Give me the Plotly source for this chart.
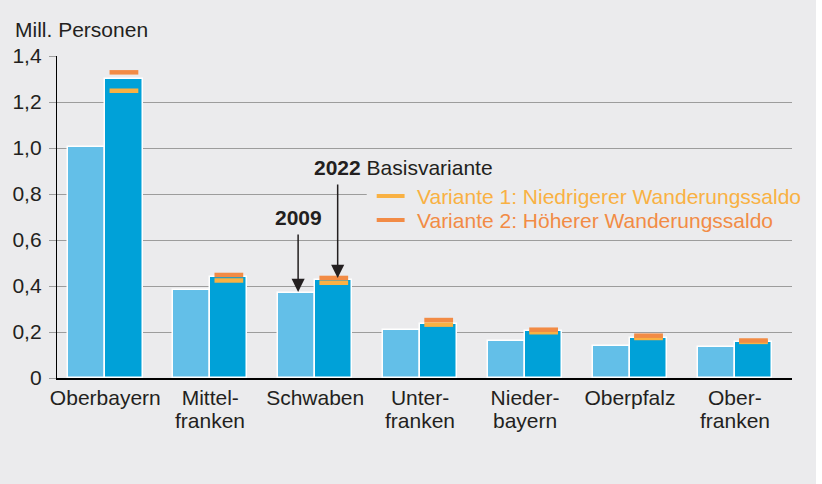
import numpy as np
import plotly.graph_objects as go

# ---- data ----
categories = ["Oberbayern", "Mittel-<br>franken", "Schwaben", "Unter-<br>franken",
              "Nieder-<br>bayern", "Oberpfalz", "Ober-<br>franken"]
v2009 = [1.005, 0.384, 0.370, 0.209, 0.159, 0.138, 0.133]
v2022 = [1.300, 0.438, 0.424, 0.235, 0.203, 0.175, 0.157]
variant1 = [1.249, 0.424, 0.414, 0.232, 0.199, 0.174, 0.157]
variant2 = [1.329, 0.448, 0.435, 0.252, 0.210, 0.184, 0.163]
y_tickvals = [0, 0.2, 0.4, 0.6, 0.8, 1.0, 1.2, 1.4]
y_ticktext = ["0", "0,2", "0,4", "0,6", "0,8", "1,0", "1,2", "1,4"]
legend_names = ["Variante 1: Niedrigerer Wanderungssaldo", "Variante 2: Höherer Wanderungssaldo"]

# ---- style ----
BG = "#ebebed"
LIGHT = "#63bfe8"
DARK = "#00a1d8"
V1 = "#f9b143"
V2 = "#f28b45"
TXT = "#231f20"
FONT = "Liberation Sans, Arial, Helvetica, sans-serif"
FS = 21

W, H = 816, 484
ML, MR, MT, MB = 54, 24, 56, 106
PW, PH = W - ML - MR, H - MT - MB


def px_x(p):  # pixel -> paper x
    return (p - ML) / PW


def px_y(p):  # pixel -> paper y
    return (H - MB - p) / PH


idx = np.arange(len(categories))
bw = 0.355
off = bw / 2
half = 0.137


def seg(vals):
    xs, ys = [], []
    for i, v in zip(idx, vals):
        xs += [i + off - half, i + off + half, None]
        ys += [v, v, None]
    return xs, ys


fig = go.Figure()
fig.add_bar(x=idx - off, y=v2009, width=bw, marker=dict(color=LIGHT, line=dict(color="white", width=1.5)),
            showlegend=False, name="2009")
fig.add_bar(x=idx + off, y=v2022, width=bw, marker=dict(color=DARK, line=dict(color="white", width=1.5)),
            showlegend=False, name="2022 Basisvariante")
for vals, col, nm in [(variant1, V1, legend_names[0]), (variant2, V2, legend_names[1])]:
    xs, ys = seg(vals)
    fig.add_scatter(x=xs, y=ys, mode="lines", line=dict(color=col, width=4.5), name=nm, showlegend=False)

first_lines = [c.split("<br>")[0] for c in categories]

fig.update_layout(
    width=W, height=H,
    margin=dict(l=ML, r=MR, t=MT, b=MB),
    paper_bgcolor=BG, plot_bgcolor=BG,
    font=dict(family=FONT, size=FS, color=TXT),
    barmode="overlay",
    showlegend=False,
    xaxis=dict(range=[-0.4606, 6.545], tickmode="array", tickvals=idx, ticktext=first_lines,
               showgrid=False, showline=True, linecolor="black", linewidth=1.5,
               ticks="", zeroline=False, tickfont=dict(size=FS, color=TXT)),
    yaxis=dict(range=[0, 1.4], tickmode="array", tickvals=y_tickvals, ticktext=y_ticktext,
               showgrid=True, gridcolor="#9c9c9c", gridwidth=1,
               showline=True, linecolor="black", linewidth=1.3,
               ticks="outside", ticklen=7, tickcolor="#9c9c9c", tickwidth=1,
               ticklabelstandoff=3, zeroline=False, tickfont=dict(size=FS, color=TXT)),
    bargap=0,
)

# second lines of the category labels (tight line spacing as in the original)
for i, c in enumerate(categories):
    parts = c.split("<br>")
    if len(parts) > 1:
        fig.add_annotation(text=parts[1], x=i, xref="x", yref="paper", y=px_y(420),
                           xanchor="center", yanchor="middle", showarrow=False,
                           font=dict(size=FS, color=TXT))

fig.add_annotation(text="Mill. Personen", xref="paper", yref="paper", x=px_x(10), y=px_y(29.7),
                   xanchor="left", yanchor="middle", showarrow=False, font=dict(size=FS, color=TXT))
fig.add_annotation(text="<b>2009</b>", x=1.8376, y=0.697, xanchor="center", yanchor="middle",
                   showarrow=False, font=dict(size=FS, color=TXT))
fig.add_annotation(text="<b>2022</b> Basisvariante", x=1.97, y=0.914, xanchor="left", yanchor="middle",
                   showarrow=False, font=dict(size=FS, color=TXT))
# arrows
fig.add_annotation(x=1.8376, y=0.374, ax=1.8376, ay=0.63, axref="x", ayref="y", text="",
                   showarrow=True, arrowhead=2, arrowsize=1.75, arrowwidth=1.5, arrowcolor=TXT)
fig.add_annotation(x=2.2146, y=0.435, ax=2.2146, ay=0.848, axref="x", ayref="y", text="",
                   showarrow=True, arrowhead=2, arrowsize=1.75, arrowwidth=1.5, arrowcolor=TXT)

# legend (manual, to match spacing)
fig.add_shape(type="rect", xref="paper", yref="paper", x0=px_x(365), x1=px_x(792),
              y0=px_y(232), y1=px_y(183), fillcolor=BG, line=dict(width=0), layer="above")
for k, (nm, col) in enumerate(zip(legend_names, [V1, V2])):
    yc = 196 + 24 * k
    fig.add_shape(type="line", xref="paper", yref="paper", x0=px_x(375), x1=px_x(403),
                  y0=px_y(yc), y1=px_y(yc), line=dict(color=col, width=4), layer="above")
    fig.add_annotation(text=nm, xref="paper", yref="paper", x=px_x(413), y=px_y(yc),
                       xanchor="left", yanchor="middle", showarrow=False,
                       font=dict(size=FS, color=col))

fig.write_html("out.html", config={"displayModeBar": False},
               post_script="document.body.style.margin='0px';document.body.style.background='white';")
